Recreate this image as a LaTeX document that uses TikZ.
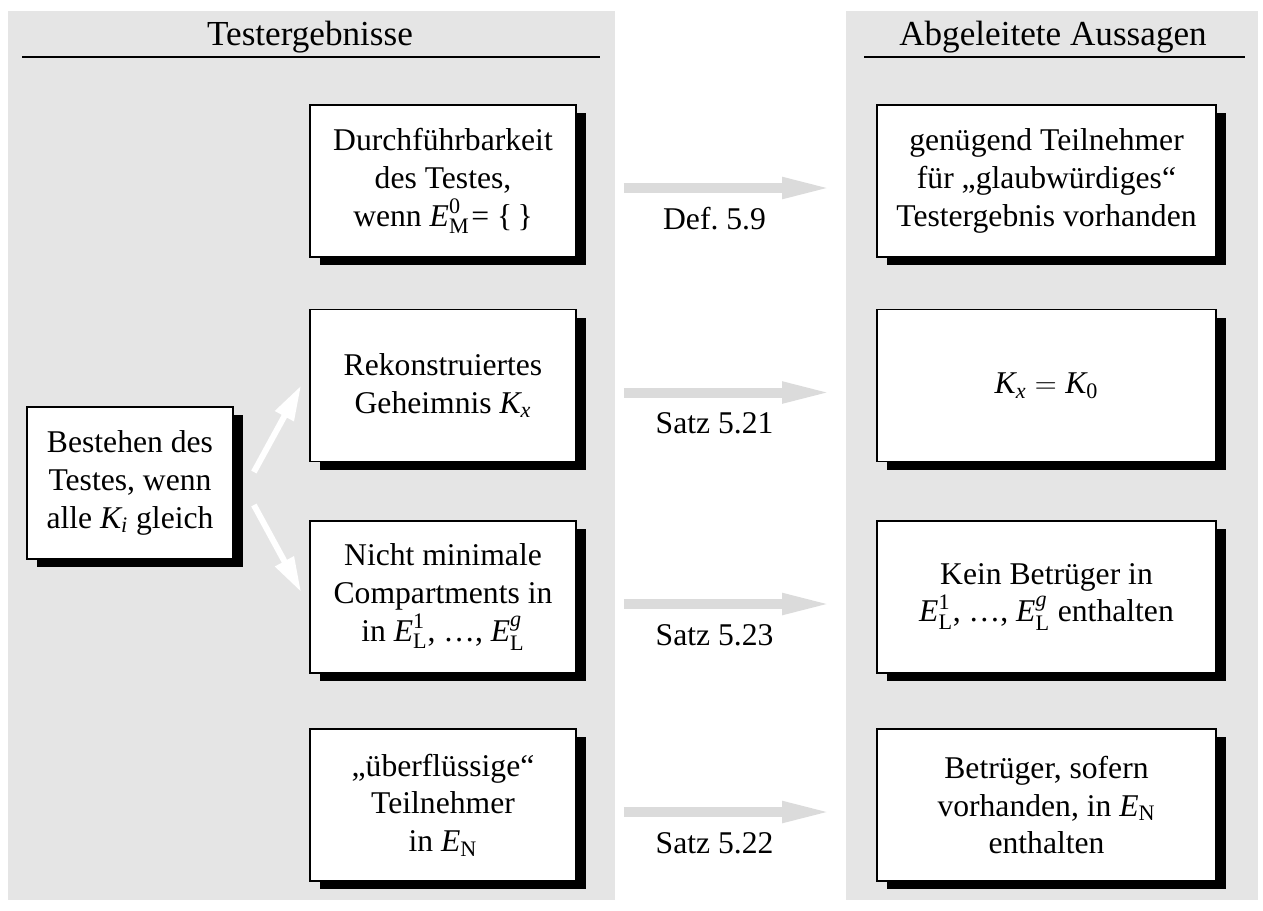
\documentclass[tikz,border=0pt]{standalone}
\usepackage{amsmath}
\usepackage{fontspec}
\setmainfont{Liberation Serif}
\usepackage{tikz}
\usetikzlibrary{arrows.meta, shadows}

\definecolor{panelgrey}{gray}{0.9}
\definecolor{arrowgrey}{gray}{0.86}

\begin{document}
\begin{tikzpicture}[font=\fontsize{18}{21.5}\selectfont,
  box/.style={draw, line width=1pt, fill=white, align=center, minimum height=3.04cm, inner sep=2pt,
    general shadow={fill=black, shadow xshift=0.2cm, shadow yshift=-0.16cm}},
  lbox/.style={box, minimum width=5.32cm},
  rbox/.style={box, minimum width=6.78cm},
  deriv/.style={draw=arrowgrey, line width=0.2cm, -{Triangle[length=1.04cm, width=0.38cm]}, shorten <=0.94cm, shorten >=0.84cm},
  branch/.style={draw=white, line width=0.12cm, -{Triangle[length=0.7cm, width=0.4cm]}},
  satz/.style={text=black, inner sep=1pt},
  heading/.style={font=\fontsize{20}{24}\selectfont, anchor=base}]
  \useasboundingbox (0,0) rectangle (25.26,-18.2);

  % two grey columns
  \fill[panelgrey] (0.16,-0.22) rectangle (12.3,-18.0);
  \fill[panelgrey] (16.92,-0.22) rectangle (25.16,-18.0);
  \node[heading] (hleft) at (6.2,-0.9) {Testergebnisse};
  \node[heading] (hright) at (21.06,-0.9) {Abgeleitete Aussagen};
  \draw[line width=0.8pt] (0.44,-1.14) -- (12.0,-1.14);
  \draw[line width=0.8pt] (17.28,-1.14) -- (24.9,-1.14);

  % test results
  \node[box, minimum width=4.12cm] (b) at (2.6,-9.66) {Bestehen des\\ Testes, wenn\\ alle $\textit{K}_{\textit{i}}$ gleich};
  \node[lbox] (l1) at (8.86,-3.62) {Durchführbarkeit\\ des Testes,\\ wenn $\textit{E}^{\text{0}}_{\text{M}}$\kern1pt= \{\,\}};
  \node[lbox] (l2) at (8.86,-7.71) {Rekonstruiertes\\ Geheimnis $\textit{K}_{\textit{x}}$};
  \node[lbox] (l3) at (8.86,-11.94) {Nicht minimale\\ Compartments in\\ in $\textit{E}^{\text{1}}_{\text{L}}$, …, $\textit{E}^{\textit{g}}_{\text{L}}$};
  \node[lbox] (l4) at (8.86,-16.1) {„überflüssige“\\ Teilnehmer\\ in $\textit{E}_{\text{N}}$};

  % derived statements
  \node[rbox] (r1) at (20.93,-3.62) {genügend Teilnehmer\\ für „glaubwürdiges“\\ Testergebnis vorhanden};
  \node[rbox] (r2) at (20.93,-7.71) {$\textit{K}_{\textit{x}} = \textit{K}_{\text{0}}$};
  \node[rbox] (r3) at (20.93,-11.94) {Kein Betrüger in\\ $\textit{E}^{\text{1}}_{\text{L}}$, …, $\textit{E}^{\textit{g}}_{\text{L}}$ enthalten};
  \node[rbox] (r4) at (20.93,-16.1) {Betrüger, sofern\\ vorhanden, in $\textit{E}_{\text{N}}$\\ enthalten};

  \draw[branch] ([shift={(0.4,0.22)}]b.east) -- ([xshift=-0.16cm]l2.west);
  \draw[branch] ([shift={(0.4,-0.44)}]b.east) -- ([shift={(-0.16,0.1)}]l3.west);

  \draw[deriv] ([yshift=-0.14cm]l1.east) -- ([yshift=-0.14cm]r1.west) node[satz, pos=0.46, yshift=-0.62cm] (s1) {Def.\ 5.9};
  \draw[deriv] ([yshift=-0.14cm]l2.east) -- ([yshift=-0.14cm]r2.west) node[satz, pos=0.46, yshift=-0.62cm] (s2) {Satz 5.21};
  \draw[deriv] ([yshift=-0.14cm]l3.east) -- ([yshift=-0.14cm]r3.west) node[satz, pos=0.46, yshift=-0.62cm] (s3) {Satz 5.23};
  \draw[deriv] ([yshift=-0.14cm]l4.east) -- ([yshift=-0.14cm]r4.west) node[satz, pos=0.46, yshift=-0.62cm] (s4) {Satz 5.22};
\end{tikzpicture}
\end{document}
